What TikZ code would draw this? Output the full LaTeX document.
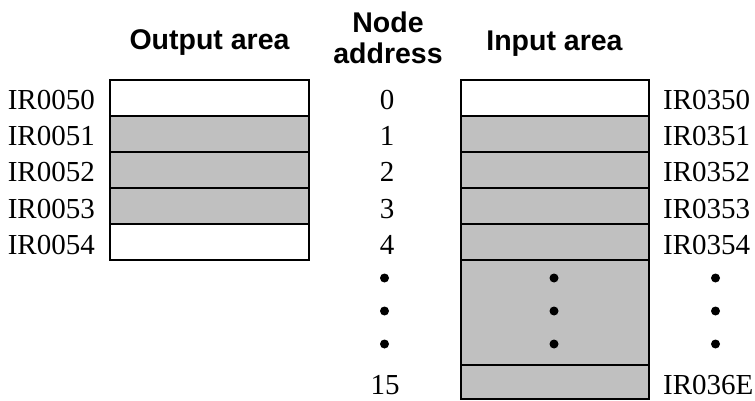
\documentclass[tikz,border=0pt]{standalone}
\usepackage{fontspec}
\setmainfont{Liberation Serif}
\setsansfont{Liberation Sans}
\definecolor{cellgray}{HTML}{C0C0C0}
\begin{document}
\begin{tikzpicture}[x=1pt,y=-1pt,
  cell/.style={draw=black, line width=2.2pt, minimum width=#1, inner sep=0pt, outer sep=0pt, anchor=north west},
  lbl/.style={font=\fontsize{29}{31}\selectfont, inner sep=0pt},
  hdr/.style={font=\sffamily\bfseries\fontsize{28.5}{31}\selectfont, inner sep=0pt, align=center},
  dot/.style={circle, fill=black, minimum size=9pt, inner sep=0pt},
  frame/.style={draw=black, line width=2.8pt}]
\useasboundingbox (0,0) rectangle (755,401);
% headers
\node[hdr, anchor=base] (hout) at (209.5,50) {Output area};
\node[hdr, anchor=base] (hin) at (554.5,50.5) {Input area};
\node[hdr] (hnode) at (388,37.5) {Node\\address};
% output area
\node[cell=199pt, minimum height=36pt, fill=white] (o0) at (110,80) {};
\node[cell=199pt, minimum height=36pt, fill=cellgray] (o1) at (110,116) {};
\node[cell=199pt, minimum height=36pt, fill=cellgray] (o2) at (110,152) {};
\node[cell=199pt, minimum height=36pt, fill=cellgray] (o3) at (110,188) {};
\node[cell=199pt, minimum height=36pt, fill=white] (o4) at (110,224) {};
\draw[frame] (o0.north west) rectangle (o4.south east);
% input area
\node[cell=188pt, minimum height=36pt, fill=white] (i0) at (461,80) {};
\node[cell=188pt, minimum height=36pt, fill=cellgray] (i1) at (461,116) {};
\node[cell=188pt, minimum height=36pt, fill=cellgray] (i2) at (461,152) {};
\node[cell=188pt, minimum height=36pt, fill=cellgray] (i3) at (461,188) {};
\node[cell=188pt, minimum height=36pt, fill=cellgray] (i4) at (461,224) {};
\node[cell=188pt, minimum height=105pt, fill=cellgray] (i5) at (461,260) {};
\node[cell=188pt, minimum height=34pt, fill=cellgray] (i6) at (461,365) {};
\draw[frame] (i0.north west) rectangle (i6.south east);
% output labels
\node[lbl, anchor=base east] (lo0) at (95,110) {IR0050};
\node[lbl, anchor=base east] (lo1) at (95,146) {IR0051};
\node[lbl, anchor=base east] (lo2) at (95,182) {IR0052};
\node[lbl, anchor=base east] (lo3) at (95,218) {IR0053};
\node[lbl, anchor=base east] (lo4) at (95,254) {IR0054};
% node addresses
\node[lbl, anchor=base] (a0) at (387,110) {0};
\node[lbl, anchor=base] (a1) at (387,146) {1};
\node[lbl, anchor=base] (a2) at (387,182) {2};
\node[lbl, anchor=base] (a3) at (387,218) {3};
\node[lbl, anchor=base] (a4) at (387,254) {4};
\node[lbl, anchor=base] (a15) at (385,394) {15};
\node[dot] (ad1) at (384.5,278) {};
\node[dot] (ad2) at (384.5,311) {};
\node[dot] (ad3) at (384.5,344) {};
% input dots
\node[dot] (id1) at (554,278) {};
\node[dot] (id2) at (554,311) {};
\node[dot] (id3) at (554,344) {};
% input labels
\node[lbl, anchor=base west] (li0) at (663,110) {IR0350};
\node[lbl, anchor=base west] (li1) at (663,146) {IR0351};
\node[lbl, anchor=base west] (li2) at (663,182) {IR0352};
\node[lbl, anchor=base west] (li3) at (663,218) {IR0353};
\node[lbl, anchor=base west] (li4) at (663,254) {IR0354};
\node[lbl, anchor=base west] (li6) at (663,394) {IR036E};
\node[dot] (rd1) at (715.5,278) {};
\node[dot] (rd2) at (715.5,311) {};
\node[dot] (rd3) at (715.5,344) {};
\end{tikzpicture}
\end{document}
